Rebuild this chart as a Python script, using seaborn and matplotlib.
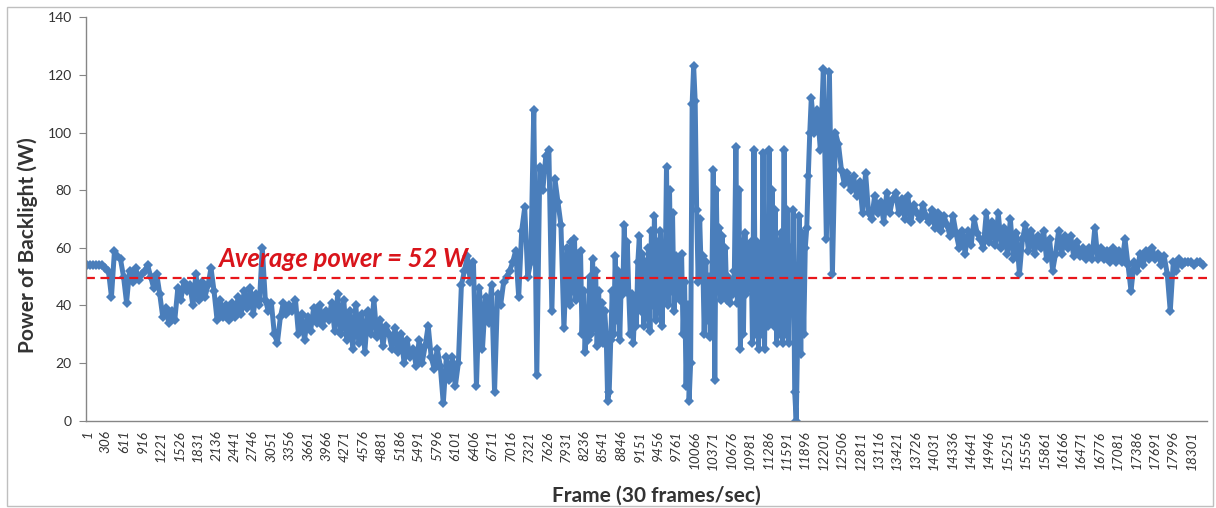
import matplotlib
matplotlib.use("Agg")
import matplotlib.pyplot as plt
import pandas as pd
import seaborn as sns
from matplotlib.patches import Rectangle

# ---- data ----
# Segment A: frames 1 .. 7951, one value every 50 frames
POWER_A = [
    54, 54, 54, 54, 54, 54, 53, 52, 43, 59,
    57, 56, 50, 41, 52, 48, 53, 49, 51, 52,
    54, 50, 46, 51, 44, 36, 39, 34, 38, 35,
    46, 42, 48, 45, 47, 40, 51, 42, 48, 43,
    47, 53, 45, 35, 42, 36, 40, 35, 41, 36,
    43, 37, 45, 39, 46, 37, 44, 40, 60, 42,
    38, 41, 30, 27, 36, 41, 37, 40, 38, 42,
    30, 37, 28, 36, 31, 39, 34, 40, 33, 38,
    35, 41, 31, 44, 30, 42, 28, 38, 25, 40,
    27, 37, 24, 38, 30, 42, 29, 35, 26, 33,
    30, 25, 32, 24, 30, 20, 28, 22, 25, 19,
    28, 20, 26, 33, 22, 18, 25, 19, 6, 22,
    14, 22, 12, 20, 47, 52, 57, 48, 55, 12,
    46, 25, 43, 34, 47, 10, 44, 40, 48, 50,
    52, 55, 59, 43, 66, 74, 50, 55, 108, 16,
    88, 80, 92, 94, 38, 84, 76, 68, 32, 60,
]
# Segment B: frames 8001 .. 11976, one value every 25 frames (busy part)
POWER_B = [
    40, 62, 45, 63, 42, 58, 44, 59, 30, 45, 24, 36, 28, 50, 30, 56, 32, 52, 26, 45,
    28, 41, 27, 38, 30, 7, 10, 28, 45, 30, 57, 35, 52, 28, 48, 44, 68, 46, 62, 44,
    30, 44, 27, 40, 33, 55, 64, 38, 58, 33, 55, 36, 60, 31, 66, 40, 71, 35, 62, 38,
    66, 33, 58, 45, 88, 40, 80, 45, 72, 38, 57, 44, 55, 42, 58, 30, 48, 12, 40, 7,
    20, 110, 123, 111, 73, 48, 70, 52, 57, 30, 55, 35, 50, 29, 45, 87, 14, 80, 45, 67,
    42, 64, 44, 60, 42, 50, 41, 48, 44, 52, 95, 41, 80, 25, 62, 30, 65, 44, 60, 46,
    62, 27, 94, 30, 62, 25, 58, 30, 93, 25, 70, 33, 94, 35, 80, 33, 73, 27, 62, 30,
    65, 27, 94, 30, 73, 27, 60, 40, 73, 10, 0, 30, 71, 23, 65, 30, 60, 67, 85, 100,
]
# Segment C: frames 12001 .. end, one value every 50 frames
POWER_C = [
    112, 100, 108, 94, 122, 63, 121, 51, 100, 96,
    87, 82, 86, 80, 85, 78, 83, 72, 86, 72,
    70, 78, 72, 76, 69, 79, 72, 77, 79, 72,
    77, 70, 78, 69, 75, 72, 70, 75, 71, 69,
    73, 67, 72, 66, 71, 68, 64, 71, 65, 60,
    66, 58, 66, 61, 70, 65, 63, 60, 72, 62,
    69, 61, 72, 60, 67, 58, 70, 56, 65, 51,
    63, 68, 59, 66, 58, 64, 60, 66, 56, 63,
    52, 58, 66, 58, 64, 60, 64, 57, 62, 57,
    60, 56, 60, 56, 67, 56, 60, 56, 59, 55,
    60, 55, 59, 55, 63, 54, 45, 55, 52, 58,
    54, 59, 56, 60, 56, 58, 54, 57, 51, 38,
    55, 52, 56, 54, 55, 55, 55, 54, 55, 55,
    54,
]
FRAMES_A = [1 + 50 * i for i in range(len(POWER_A))]
FRAMES_B = [8001 + 25 * i for i in range(len(POWER_B))]
FRAMES_C = [12001 + 50 * i for i in range(len(POWER_C))]

TICK_FRAMES = list(range(1, 18302, 305))
TICK_LABELS = [str(f) for f in TICK_FRAMES]
Y_TICKS = [0, 20, 40, 60, 80, 100, 120, 140]
AVERAGE_LEVEL = 49.5
AVERAGE_TEXT = "Average power = 52 W"
X_TITLE = "Frame (30 frames/sec)"
Y_TITLE = "Power of Backlight (W)"

sns.set_theme(style="white")
plt.rcParams["font.family"] = ["Lato", "DejaVu Sans"]

W, H = 1216, 508
fig = plt.figure(figsize=(W / 100, H / 100), dpi=100)
fig.patch.set_facecolor("white")
fig.add_artist(Rectangle((7 / W, 2 / H), 1206 / W, 499 / H, transform=fig.transFigure,
                         fill=False, edgecolor="#BFBFBF", linewidth=1.0))

ax = fig.add_axes([85.7 / W, 87.3 / H, (1207 - 85.7) / W, 403.4 / H])
df = pd.DataFrame({"frame": FRAMES_A + FRAMES_B + FRAMES_C,
                   "power": POWER_A + POWER_B + POWER_C})
sns.lineplot(data=df, x="frame", y="power", ax=ax, color="#4A7EBB", linewidth=3.6,
             marker="D", markersize=5.5, markeredgewidth=0, estimator=None, sort=False)

ax.axhline(AVERAGE_LEVEL, color="#E8161B", linestyle=(0, (4, 2.5)), linewidth=1.6)
ax.text(2170, 56.0, AVERAGE_TEXT, color="#D9141B", fontsize=18.5, fontweight="bold",
        fontstyle="italic", va="center", ha="left")

ax.set_xlim(-26, 18560)
ax.set_ylim(0, 140)
ax.set_yticks(Y_TICKS)
ax.set_yticklabels([str(v) for v in Y_TICKS], fontsize=10, color="#333333")
ax.set_xticks(TICK_FRAMES)
ax.set_xticklabels(TICK_LABELS, rotation=90, fontsize=9.8, fontstyle="italic", color="#333333")
ax.tick_params(axis="y", direction="out", length=5, width=0.8, color="#868686", pad=5, left=True)
ax.tick_params(axis="x", direction="out", length=0, pad=7, bottom=True)

for side in ["top", "right"]:
    ax.spines[side].set_visible(False)
for side in ["left", "bottom"]:
    ax.spines[side].set_color("#868686")
    ax.spines[side].set_linewidth(1.0)

ax.set_xlabel(X_TITLE, fontsize=15, fontweight="bold", color="#333333")
ax.set_ylabel(Y_TITLE, fontsize=15, fontweight="bold", color="#333333")
ax.xaxis.set_label_coords((656 - 85.7) / (1207 - 85.7), -(486 - 420.7) / 403.4)
ax.yaxis.set_label_coords(-(85.7 - 38) / (1207 - 85.7), (420.7 - 245) / 403.4)

fig.savefig("out.png", dpi=100, facecolor="white")
